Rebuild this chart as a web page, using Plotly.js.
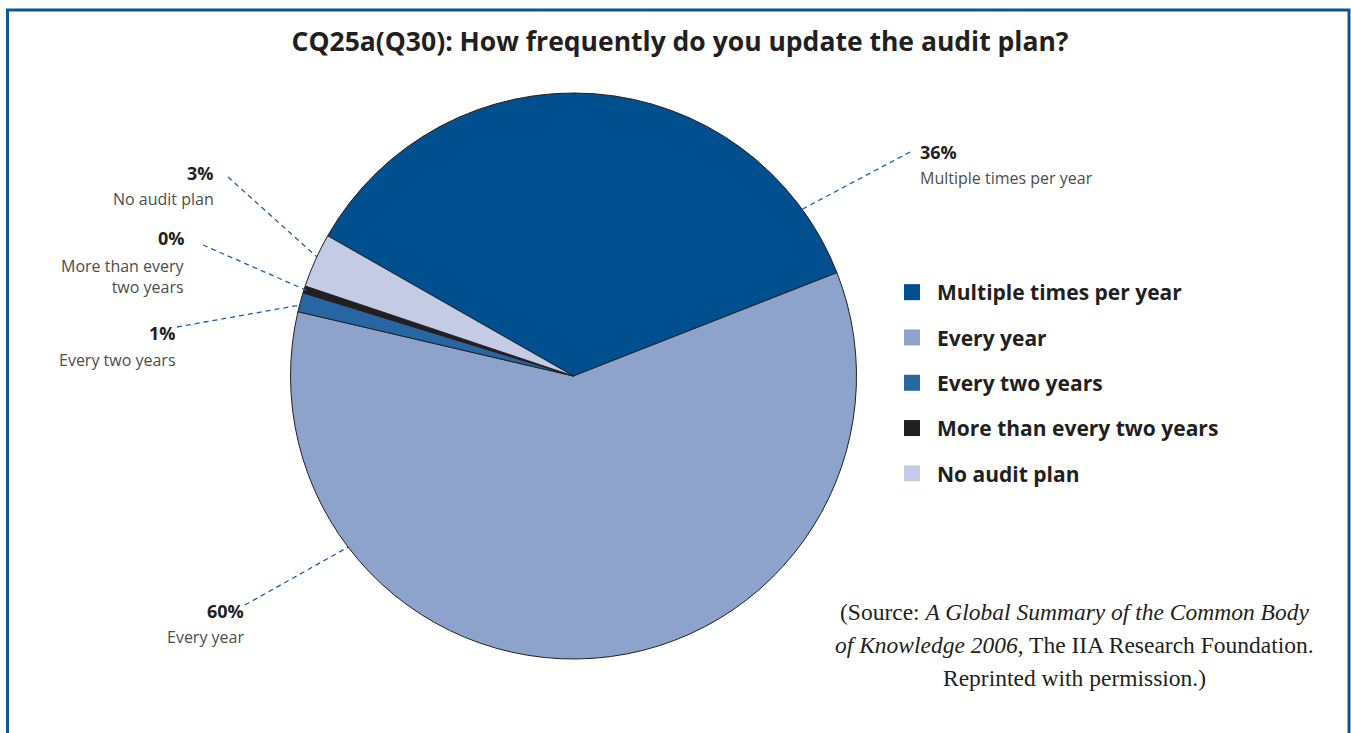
<!DOCTYPE html>
<html><head><meta charset="utf-8">
<script src="https://cdn.plot.ly/plotly-3.0.1.min.js"></script>
<style>html,body{margin:0;padding:0;background:#fff;} #chart{width:1351px;height:733px;}</style>
</head><body><div id="chart"></div>
<script>
// ---- data ----
const categories = ["Multiple times per year", "Every year", "Every two years", "More than every two years", "No audit plan"];
const shares = [35.8, 59.6, 1.1, 0.4, 3.1];
const labelNames = ["Multiple times per year", "Every year", "Every two years", "More than every<br>two years", "No audit plan"];
const colors = ["#00508f", "#8ea3cb", "#2866a3", "#231f20", "#c3cce4"];
const titleText = "CQ25a(Q30): How frequently do you update the audit plan?";
const sourceLines = ["(Source: <i>A Global Summary of the Common Body</i>", "<i>of Knowledge 2006</i>, The IIA Research Foundation.", "Reprinted with permission.)"];

// ---- geometry / layout config ----
const W = 1351, H = 733;
const cx = 573.5, cy = 376, R = 283;
const px = x => x / W, py = y => 1 - y / H;
const SANS = "Open Sans, Noto Sans, sans-serif";

const labelLayout = [
  {x: 918, y: 152, nameY: 178, align: 'left',  outer: [910, 152], ang: 36.1,  rf: 1.0},
  {x: 246, y: 611, nameY: 637, align: 'right', outer: [245, 605], ang: 217.2, rf: 1.0},
  {x: 178, y: 333, nameY: 360, align: 'right', outer: [177, 327], ang: 165.5, rf: 1.0},
  {x: 187, y: 238, nameY: 276.5, align: 'right', outer: [203, 245], ang: 162.3, rf: 0.977},
  {x: 216, y: 173, nameY: 199, align: 'right', outer: [228, 177], ang: 155.1, rf: 1.0}
];

const pie = {
  type: 'pie', labels: categories, values: shares, sort: false,
  direction: 'clockwise', rotation: -60.3,
  marker: {colors: colors, line: {color: '#231f20', width: 1}},
  textinfo: 'none', hoverinfo: 'label+percent', showlegend: false,
  domain: {x: [px(cx - R), px(cx + R)], y: [py(cy + R), py(cy - R)]}
};

const legendTraces = categories.map((c, i) => ({
  type: 'scatter', mode: 'markers', x: [null], y: [null], name: c,
  legendgroup: 'g' + i, hoverinfo: 'skip',
  marker: {symbol: 'square', size: 18, color: colors[i]}
}));

const annotations = [];
const shapes = [];
labelLayout.forEach((L, i) => {
  const anchor = L.align === 'left' ? 'left' : 'right';
  annotations.push({
    xref: 'paper', yref: 'paper', x: px(L.x), y: py(L.y), xanchor: anchor, yanchor: 'middle',
    text: Math.round(shares[i]) + '%', showarrow: false, align: L.align,
    font: {family: SANS, size: 18, color: '#231f20', weight: 700}
  });
  annotations.push({
    xref: 'paper', yref: 'paper', x: px(L.x), y: py(L.nameY), xanchor: anchor, yanchor: 'middle',
    text: labelNames[i], showarrow: false, align: L.align,
    font: {family: SANS, size: 16, color: '#4d4d4d'}
  });
  const a = L.ang * Math.PI / 180;
  const ix = cx + R * L.rf * Math.cos(a), iy = cy - R * L.rf * Math.sin(a);
  shapes.push({
    type: 'line', xref: 'paper', yref: 'paper',
    x0: px(L.outer[0]), y0: py(L.outer[1]), x1: px(ix), y1: py(iy),
    line: {color: '#1a5fa8', width: 1.3, dash: '5px,4px'}
  });
});

sourceLines.forEach((t, k) => {
  annotations.push({
    xref: 'paper', yref: 'paper', x: px(1074), y: py(612 + 33 * k), xanchor: 'center', yanchor: 'middle',
    text: t, showarrow: false,
    font: {family: "Liberation Serif, serif", size: 23.5, color: '#231f20'}
  });
});

// frame
shapes.push({
  type: 'rect', xref: 'paper', yref: 'paper', x0: px(7.5), x1: px(1349), y0: -0.05, y1: py(10),
  line: {color: '#0b5699', width: 3}, fillcolor: 'rgba(0,0,0,0)'
});

const layout = {
  width: W, height: H, margin: {l: 0, r: 0, t: 0, b: 0},
  paper_bgcolor: '#ffffff', plot_bgcolor: 'rgba(0,0,0,0)',
  xaxis: {visible: false}, yaxis: {visible: false},
  title: {text: titleText, x: px(680), xanchor: 'center', y: py(42), yanchor: 'middle',
          font: {family: SANS, size: 26.5, color: '#231f20', weight: 700}},
  showlegend: true,
  legend: {x: px(887), xanchor: 'left', y: py(272), yanchor: 'top', itemwidth: 40,
           tracegroupgap: 15, bgcolor: 'rgba(0,0,0,0)',
           font: {family: SANS, size: 21, color: '#231f20', weight: 700}},
  annotations: annotations, shapes: shapes
};

Plotly.newPlot('chart', [pie].concat(legendTraces), layout, {displayModeBar: false, staticPlot: true});
</script>
</body></html>
